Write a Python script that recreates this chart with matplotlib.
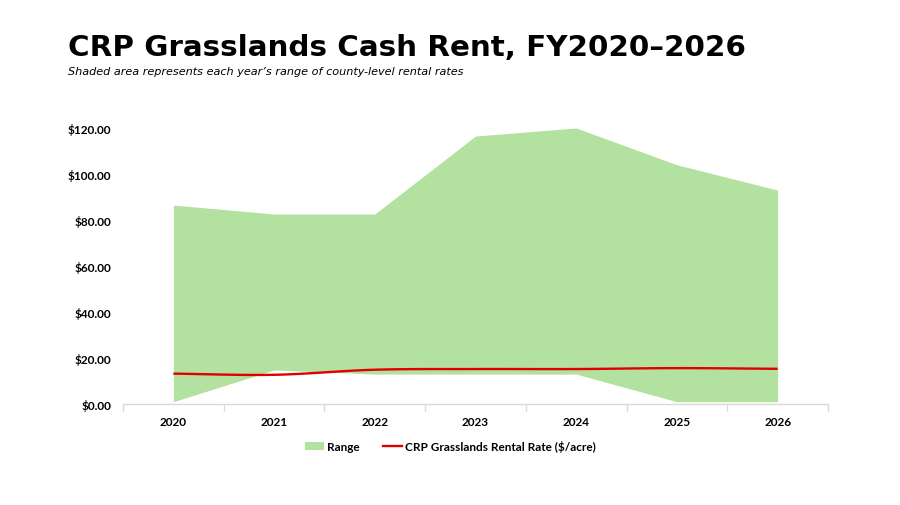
import matplotlib
matplotlib.use("Agg")
import matplotlib.pyplot as plt
import numpy as np
from matplotlib.ticker import FuncFormatter, FixedLocator
from matplotlib.patches import Patch
from matplotlib.lines import Line2D

years = ["2020", "2021", "2022", "2023", "2024", "2025", "2026"]
range_low = [1.0, 14.8, 13.0, 13.0, 13.0, 1.0, 1.0]
range_high = [86.5, 82.6, 82.6, 116.5, 120.0, 104.0, 93.0]
rental_rate = [13.2, 12.7, 14.9, 15.2, 15.2, 15.6, 15.3]

fill_color = "#b3e19f"
line_color = "#e00000"
lab_family = "Lato"

fig = plt.figure(figsize=(9, 5.06), dpi=100)
ax = fig.add_axes([123/900, 101/506, 705/900, 276/506])

x = np.arange(len(years))
ax.fill_between(x, range_low, range_high, color=fill_color, linewidth=0, zorder=1)

# smoothed line like excel's smooth option
def smooth(xs, ys, n=20):
    xs = np.asarray(xs, float)
    ys = np.asarray(ys, float)
    out_x, out_y = [], []
    m = np.zeros_like(ys)
    m[1:-1] = (ys[2:] - ys[:-2]) / 2
    m[0] = ys[1] - ys[0]
    m[-1] = ys[-1] - ys[-2]
    for i in range(len(xs) - 1):
        t = np.linspace(0, 1, n)
        h00 = 2*t**3 - 3*t**2 + 1
        h10 = t**3 - 2*t**2 + t
        h01 = -2*t**3 + 3*t**2
        h11 = t**3 - t**2
        out_x.extend(xs[i] + t)
        out_y.extend(h00*ys[i] + h10*m[i] + h01*ys[i+1] + h11*m[i+1])
    return out_x, out_y

sx, sy = smooth(x, rental_rate)
ax.plot(sx, sy, color=line_color, linewidth=1.7, zorder=3, solid_capstyle="butt")

ax.set_xlim(-0.5, len(years) - 0.5)
ax.set_ylim(0, 120)
ax.set_yticks(np.arange(0, 121, 20))
ax.yaxis.set_major_formatter(FuncFormatter(lambda v, p: "${:,.2f}".format(v)))
ax.set_xticks(x)
ax.set_xticklabels(years)
ax.xaxis.set_minor_locator(FixedLocator(np.arange(-0.5, len(years), 1.0)))

for s in ["top", "right", "left"]:
    ax.spines[s].set_visible(False)
ax.spines["bottom"].set_color("#d9d9d9")
ax.spines["bottom"].set_linewidth(1.0)
ax.tick_params(axis="y", length=0, pad=8.5)
ax.tick_params(axis="x", which="major", length=0, pad=9)
ax.tick_params(axis="x", which="minor", length=5, color="#d9d9d9", width=1.0)

for t in ax.get_yticklabels() + ax.get_xticklabels():
    t.set_fontfamily(lab_family)
    t.set_fontweight("bold")
    t.set_fontsize(8.5)

fig.text(68/900, 1 - 48/506, "CRP Grasslands Cash Rent, FY2020\u20132026",
         fontsize=21.15, fontweight="bold", family="DejaVu Sans", va="center", ha="left")
fig.text(68/900, 1 - 72/506, "Shaded area represents each year\u2019s range of county-level rental rates",
         fontsize=8.15, style="italic", family="DejaVu Sans", va="center", ha="left")

handles = [Patch(facecolor=fill_color, edgecolor="none", label="Range"),
           Line2D([0], [0], color=line_color, linewidth=1.7, label="CRP Grasslands Rental Rate ($/acre)")]
leg = fig.legend(handles=handles, loc="center", bbox_to_anchor=(450/900, 1 - 447/506), ncol=2,
                 frameon=False, prop=dict(family=lab_family, weight="bold", size=8.5),
                 handlelength=1.6, handletextpad=0.25, columnspacing=2.0)

fig.savefig("out.png", dpi=100)
